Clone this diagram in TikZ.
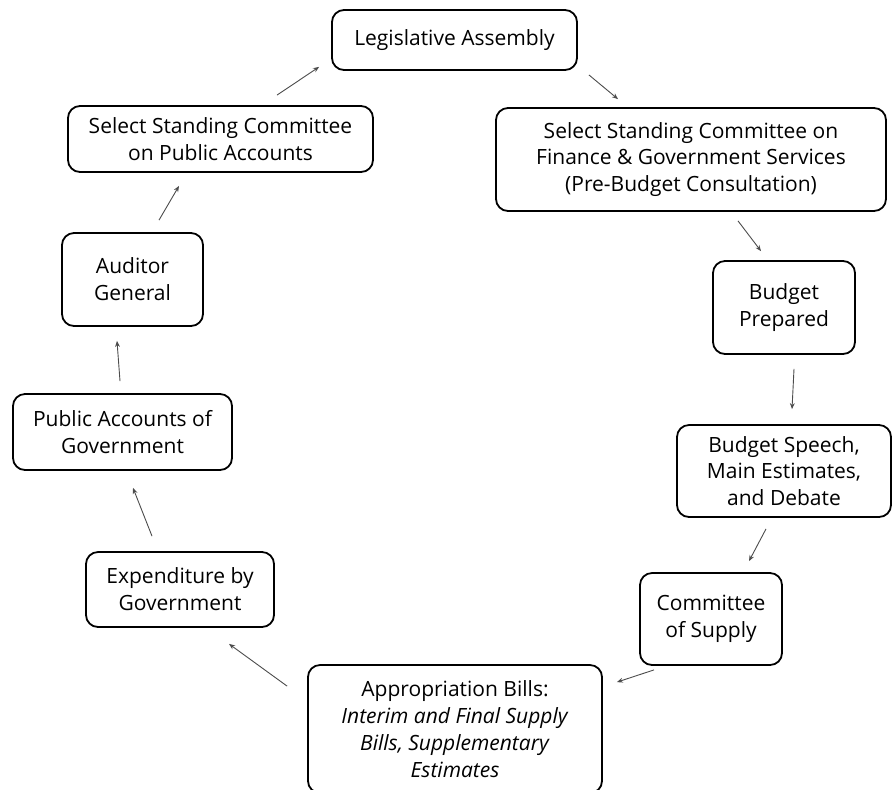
\documentclass[tikz,border=0pt]{standalone}
\usepackage{fontspec}
\setmainfont{Open Sans}
\usepackage{tikz}
\usetikzlibrary{arrows.meta,positioning}
\tikzset{
  stage/.style={draw, rounded corners=6pt, line width=0.9pt, align=center, inner sep=0pt,
    font=\fontsize{10.5}{13.4}\selectfont},
  flow/.style={-{Stealth[length=3pt,width=2.4pt]}, line width=0.45pt, black!70}
}

\begin{document}
\begin{tikzpicture}[x=0.5pt, y=-0.5pt]
				\useasboundingbox (0,0) rectangle (893,789);
				\node[stage, minimum width=122.5pt, minimum height=30pt] (la) at (454.5,40) {Legislative Assembly};
				\node[stage, minimum width=195pt, minimum height=51.5pt] (fin) at (691,159.5) {Select Standing Committee on\\Finance \& Government Services\\(Pre-Budget Consultation)};
				\node[stage, minimum width=71pt, minimum height=46.5pt] (bp) at (784,307.5) {Budget\\Prepared};
				\node[stage, minimum width=107pt, minimum height=46pt] (bs) at (784,471) {Budget Speech,\\Main Estimates,\\and Debate};
				\node[stage, minimum width=71pt, minimum height=46pt] (cos) at (711,619) {Committee\\of Supply};
				\node[stage, minimum width=147pt, minimum height=64pt] (app) at (455,729) {Appropriation Bills:\\\textit{Interim and Final Supply}\\\textit{Bills, Supplementary}\\\textit{Estimates}};
				\node[stage, minimum width=94pt, minimum height=37.5pt] (exp) at (180,589.5) {Expenditure by\\Government};
				\node[stage, minimum width=109.5pt, minimum height=38pt] (pag) at (122.5,432) {Public Accounts of\\Government};
				\node[stage, minimum width=70.5pt, minimum height=46.5pt] (ag) at (132.5,279.5) {Auditor\\General};
				\node[stage, minimum width=152.5pt, minimum height=33pt] (spa) at (220.5,139) {Select Standing Committee\\on Public Accounts};
				\draw[flow] ([shift={(56.5,-10)}]spa.north) -- ([shift={(-12,-4)}]la.south west);
				\draw[flow] ([shift={(11,4)}]la.south east) -- ([shift={(-73,-8)}]fin.north);
				\draw[flow] ([shift={(47,9)}]fin.south) -- ([shift={(-23,-9)}]bp.north);
				\draw[flow] ([shift={(10,14)}]bp.south) -- ([shift={(8,-15)}]bs.north);
				\draw[flow] ([shift={(-18,11)}]bs.south) -- ([shift={(38,-11)}]cos.north);
				\draw[flow] ([shift={(-57,4)}]cos.south) -- ([shift={(14,18)}]app.north east);
				\draw[flow] ([shift={(-20,22)}]app.north west) -- ([shift={(49,16)}]exp.south);
				\draw[flow] ([shift={(-28,-15)}]exp.north) -- ([shift={(10.5,17)}]pag.south);
				\draw[flow] ([shift={(-2.5,-12)}]pag.north) -- ([shift={(-15.5,14)}]ag.south);
				\draw[flow] ([shift={(26.5,-12)}]ag.north) -- ([shift={(-41.5,13)}]spa.south);
			\end{tikzpicture}
\end{document}
